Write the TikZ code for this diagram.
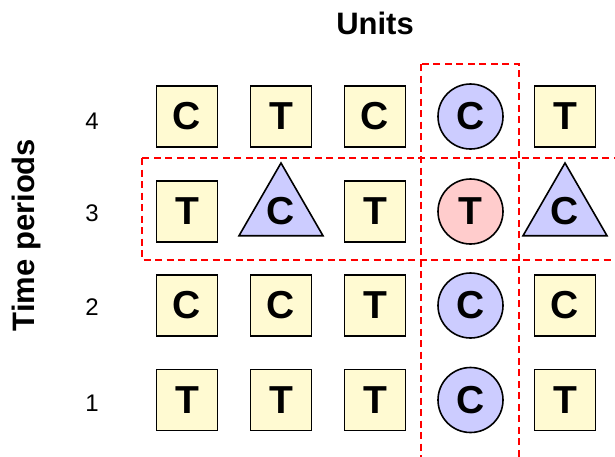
\documentclass[tikz,border=0pt]{standalone}
\usepackage{fontspec}
\setmainfont{Liberation Sans}
\usetikzlibrary{shapes.geometric}
\definecolor{sqfill}{RGB}{255,250,210}
\definecolor{blfill}{RGB}{204,204,255}
\definecolor{pkfill}{RGB}{255,204,204}
\tikzset{
  cell/.style={draw=black, line width=1.6pt, inner sep=0pt, font=\fontsize{39}{39}\selectfont\bfseries},
  sq/.style={cell, rectangle, fill=sqfill, minimum size=61pt},
  circ/.style={cell, circle, fill=blfill, minimum size=65pt},
  circt/.style={cell, circle, fill=pkfill, minimum size=65pt},
  tri/.style={cell, regular polygon, regular polygon sides=3, fill=blfill, minimum size=97pt},
  rowlab/.style={anchor=base, inner sep=0pt, font=\fontsize{24}{24}\selectfont},
  axlab/.style={inner sep=0pt, font=\fontsize{31}{31}\selectfont\bfseries},
  hl/.style={draw=red, line width=1.9pt, dash pattern=on 7pt off 4.5pt}
}
\begin{document}
\begin{tikzpicture}[x=1pt, y=-1pt]
\useasboundingbox (0,0) rectangle (615,456);
\clip (0,0) rectangle (615,456);
% highlight boxes
\draw[hl] (421,64) rectangle (519,470);
\draw[hl] (142,158) rectangle (630,260);
% axis labels
\node[axlab, anchor=base] (units) at (375,34) {Units};
\node[axlab, anchor=base, rotate=90] (time) at (34,235) {Time periods};
% row labels
\node[rowlab] (r4) at (92,129) {4};
\node[rowlab] (r3) at (92,221) {3};
\node[rowlab] (r2) at (92,315) {2};
\node[rowlab] (r1) at (92,411) {1};
% row 4
\node[sq] (a14) at (187,116.5) {C};
\node[sq] (a24) at (281,116.5) {T};
\node[sq] (a34) at (375,116.5) {C};
\node[circ] (a44) at (470.5,116.5) {C};
\node[sq] (a54) at (565,116.5) {T};
% row 3
\node[sq] (a13) at (187,211.5) {T};
\node[tri] (a23) at (281,211.5) {C};
\node[sq] (a33) at (375,211.5) {T};
\node[circt] (a43) at (470.5,211.5) {T};
\node[tri] (a53) at (565,211.5) {C};
% row 2
\node[sq] (a12) at (187,305.5) {C};
\node[sq] (a22) at (281,305.5) {C};
\node[sq] (a32) at (375,305.5) {T};
\node[circ] (a42) at (470.5,305.5) {C};
\node[sq] (a52) at (565,305.5) {C};
% row 1
\node[sq] (a11) at (187,400) {T};
\node[sq] (a21) at (281,400) {T};
\node[sq] (a31) at (375,400) {T};
\node[circ] (a41) at (470.5,400) {C};
\node[sq] (a51) at (565,400) {T};
\end{tikzpicture}
\end{document}
